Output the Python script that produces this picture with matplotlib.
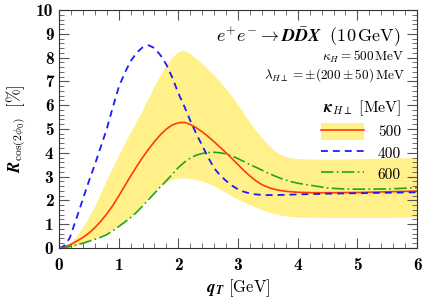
import numpy as np
import matplotlib
matplotlib.use("Agg")
from matplotlib import pyplot as plt
from matplotlib.patches import Patch
from matplotlib.lines import Line2D
from matplotlib.ticker import MultipleLocator

plt.rcParams['mathtext.fontset'] = 'cm'
plt.rcParams['font.family'] = 'serif'
plt.rcParams['font.serif'] = ['cmr10', 'DejaVu Serif']
plt.rcParams['axes.formatter.use_mathtext'] = True

# kappa_H_perp = 500 MeV (central), 400 MeV, 600 MeV
q_500 = [0, 0.1, 0.2, 0.3, 0.4, 0.5, 0.6, 0.7, 0.8, 0.9, 1.0, 1.1, 1.2, 1.3, 1.4, 1.5,
         1.6, 1.7, 1.8, 1.9, 2.0, 2.1, 2.2, 2.3, 2.4, 2.5, 2.6, 2.7, 2.8, 2.9, 3.0,
         3.1, 3.2, 3.3, 3.4, 3.5, 3.6, 3.7, 3.8, 4.0, 4.25, 4.5, 5.0, 5.5, 6.0]
R_500 = [0, 0.05, 0.15, 0.29, 0.44, 0.62, 0.85, 1.12, 1.43, 1.78, 2.18, 2.6, 3.02, 3.42, 3.8, 4.15,
         4.47, 4.76, 5.0, 5.17, 5.26, 5.28, 5.19, 5.05, 4.88, 4.68, 4.46, 4.23, 4.0, 3.75, 3.5,
         3.25, 3.02, 2.82, 2.66, 2.55, 2.47, 2.42, 2.38, 2.34, 2.32, 2.32, 2.33, 2.36, 2.39]

q_400 = [0, 0.05, 0.1, 0.18, 0.3, 0.4, 0.5, 0.6, 0.7, 0.8, 0.9, 1.0, 1.1, 1.2, 1.3, 1.4,
         1.5, 1.6, 1.7, 1.8, 1.9, 2.0, 2.1, 2.2, 2.3, 2.4, 2.5, 2.6, 2.7, 2.8, 2.9,
         3.0, 3.1, 3.2, 3.3, 3.4, 3.5, 3.75, 4.0, 4.5, 5.0, 5.5, 6.0]
R_400 = [0, 0.03, 0.12, 0.42, 1.3, 2.05, 2.8, 3.5, 4.25, 5.0, 5.9, 6.75, 7.35, 7.85, 8.2, 8.43,
         8.52, 8.4, 8.1, 7.7, 7.15, 6.5, 5.95, 5.35, 4.8, 4.3, 3.8, 3.35, 3.05, 2.82, 2.62,
         2.46, 2.36, 2.29, 2.25, 2.23, 2.22, 2.23, 2.25, 2.28, 2.3, 2.32, 2.34]

q_600 = [0, 0.1, 0.2, 0.3, 0.4, 0.5, 0.6, 0.7, 0.8, 0.9, 1.0, 1.1, 1.2, 1.3, 1.4, 1.5,
         1.6, 1.7, 1.8, 1.9, 2.0, 2.1, 2.2, 2.3, 2.4, 2.5, 2.6, 2.7, 2.8, 2.9, 3.0,
         3.1, 3.2, 3.3, 3.4, 3.5, 3.6, 3.7, 3.8, 3.9, 4.0, 4.25, 4.5, 4.75, 5.0, 5.5, 6.0]
R_600 = [0, 0.02, 0.07, 0.14, 0.2, 0.28, 0.36, 0.45, 0.56, 0.72, 0.9, 1.08, 1.28, 1.5, 1.76, 2.03,
         2.3, 2.57, 2.83, 3.1, 3.38, 3.6, 3.78, 3.9, 3.97, 4.01, 4.02, 4.0, 3.95, 3.86, 3.75,
         3.63, 3.5, 3.39, 3.27, 3.15, 3.04, 2.94, 2.85, 2.78, 2.72, 2.62, 2.52, 2.48, 2.47, 2.48, 2.53]

# uncertainty band from lambda_H_perp = 200 +- 50 MeV
q_band = [0, 0.1, 0.2, 0.3, 0.4, 0.5, 0.6, 0.7, 0.8, 0.9, 1.0, 1.1, 1.2, 1.3, 1.4, 1.5,
          1.6, 1.7, 1.8, 1.9, 2.0, 2.1, 2.2, 2.3, 2.4, 2.5, 2.6, 2.7, 2.8, 2.9, 3.0,
          3.1, 3.2, 3.3, 3.4, 3.5, 3.6, 3.7, 3.8, 3.9, 4.0, 4.5, 5.0, 5.5, 6.0]
band_hi = [0, 0.07, 0.25, 0.52, 0.88, 1.3, 1.78, 2.32, 2.88, 3.4, 3.9, 4.4, 4.87, 5.33, 5.82, 6.32,
           6.82, 7.28, 7.7, 8.03, 8.25, 8.3, 8.17, 7.97, 7.74, 7.5, 7.25, 6.98, 6.68, 6.35, 6.0,
           5.63, 5.26, 4.93, 4.62, 4.34, 4.11, 3.94, 3.84, 3.78, 3.75, 3.73, 3.75, 3.78, 3.8]
band_lo = [0, 0.01, 0.04, 0.1, 0.18, 0.28, 0.39, 0.51, 0.64, 0.78, 0.93, 1.1, 1.31, 1.56, 1.84, 2.12,
           2.39, 2.61, 2.78, 2.89, 2.94, 2.95, 2.92, 2.88, 2.81, 2.72, 2.6, 2.46, 2.32, 2.18, 2.05,
           1.93, 1.82, 1.71, 1.61, 1.52, 1.45, 1.39, 1.35, 1.32, 1.3, 1.28, 1.28, 1.28, 1.3]

c_red = '#ff3b0a'
c_blue = '#1a1aff'
c_green = '#1fa51f'
c_band = '#fff08a'
dash_400 = (3.8, 2.8)
dash_600 = (7.5, 2.0, 1.0, 2.0)

fig = plt.figure(figsize=(4.23, 3.08), dpi=100)
ax = fig.add_axes([0.1395, 0.195, 0.8465, 0.7725])

ax.fill_between(q_band, band_lo, band_hi, color=c_band, lw=0)
ax.plot(q_500, R_500, color=c_red, lw=1.2)
ax.plot(q_400, R_400, color=c_blue, lw=1.3, dashes=dash_400)
ax.plot(q_600, R_600, color=c_green, lw=1.2, dashes=dash_600)

ax.set_xlim(0, 6)
ax.set_ylim(0, 10)
ax.xaxis.set_minor_locator(MultipleLocator(0.2))
ax.yaxis.set_minor_locator(MultipleLocator(0.2))
ax.tick_params(which='both', direction='in', top=True, right=True, color='#555555')
ax.tick_params(which='major', length=7, width=0.8)
ax.tick_params(which='minor', length=3.5, width=0.6)
ax.set_xticks(range(7))
ax.set_xticklabels([str(v) for v in range(7)], fontsize=12.5, family='cmb10')
ax.set_yticks(range(11))
ax.set_yticklabels([str(v) for v in range(11)], fontsize=12.5, family='cmb10')
ax.tick_params(axis='x', pad=7)
ax.tick_params(axis='y', pad=4)
for s in ax.spines.values():
    s.set_linewidth(0.8)
    s.set_color('#333333')

ax.set_xlabel(r'$\mathbfit{q}_{\mathbfit{T}}\ [\mathrm{GeV}]$', fontsize=12, labelpad=3)
ax.set_ylabel(r'$\mathbfit{R}_{\cos(2\phi_0)}\ \ [\%]$', fontsize=12, labelpad=6)

ax.text(0.955, 0.884, r'$e^{+}e^{-}\to \mathbfit{D}\bar{\mathbfit{D}}\mathbfit{X}\ \ (10\,\mathrm{GeV})$',
        transform=ax.transAxes, ha='right', va='center', fontsize=13)
ax.text(0.965, 0.805, r'$\kappa_H = 500\,\mathrm{MeV}$',
        transform=ax.transAxes, ha='right', va='center', fontsize=9.5)
ax.text(0.965, 0.726, r'$\lambda_{H\perp} = \pm(200 \pm 50)\,\mathrm{MeV}$',
        transform=ax.transAxes, ha='right', va='center', fontsize=9.5)

h500 = (Patch(color=c_band, lw=0), Line2D([], [], color=c_red, lw=1.2))
h400 = Line2D([], [], color=c_blue, lw=1.3, dashes=dash_400)
h600 = Line2D([], [], color=c_green, lw=1.2, dashes=dash_600)
leg = ax.legend([h500, h400, h600], ['500', '400', '600'],
                title=r'$\mathbfit{\kappa}_{H\perp}\ [\mathrm{MeV}]$',
                loc='upper right', bbox_to_anchor=(0.985, 0.672), frameon=False,
                prop={'family': 'cmr10', 'size': 11}, title_fontsize=11.5,
                handlelength=2.8, handleheight=1.3,
                labelspacing=0.3, borderpad=0.2, handletextpad=0.9)
leg._legend_box.align = 'right'

fig.savefig('out.png', dpi=100)
